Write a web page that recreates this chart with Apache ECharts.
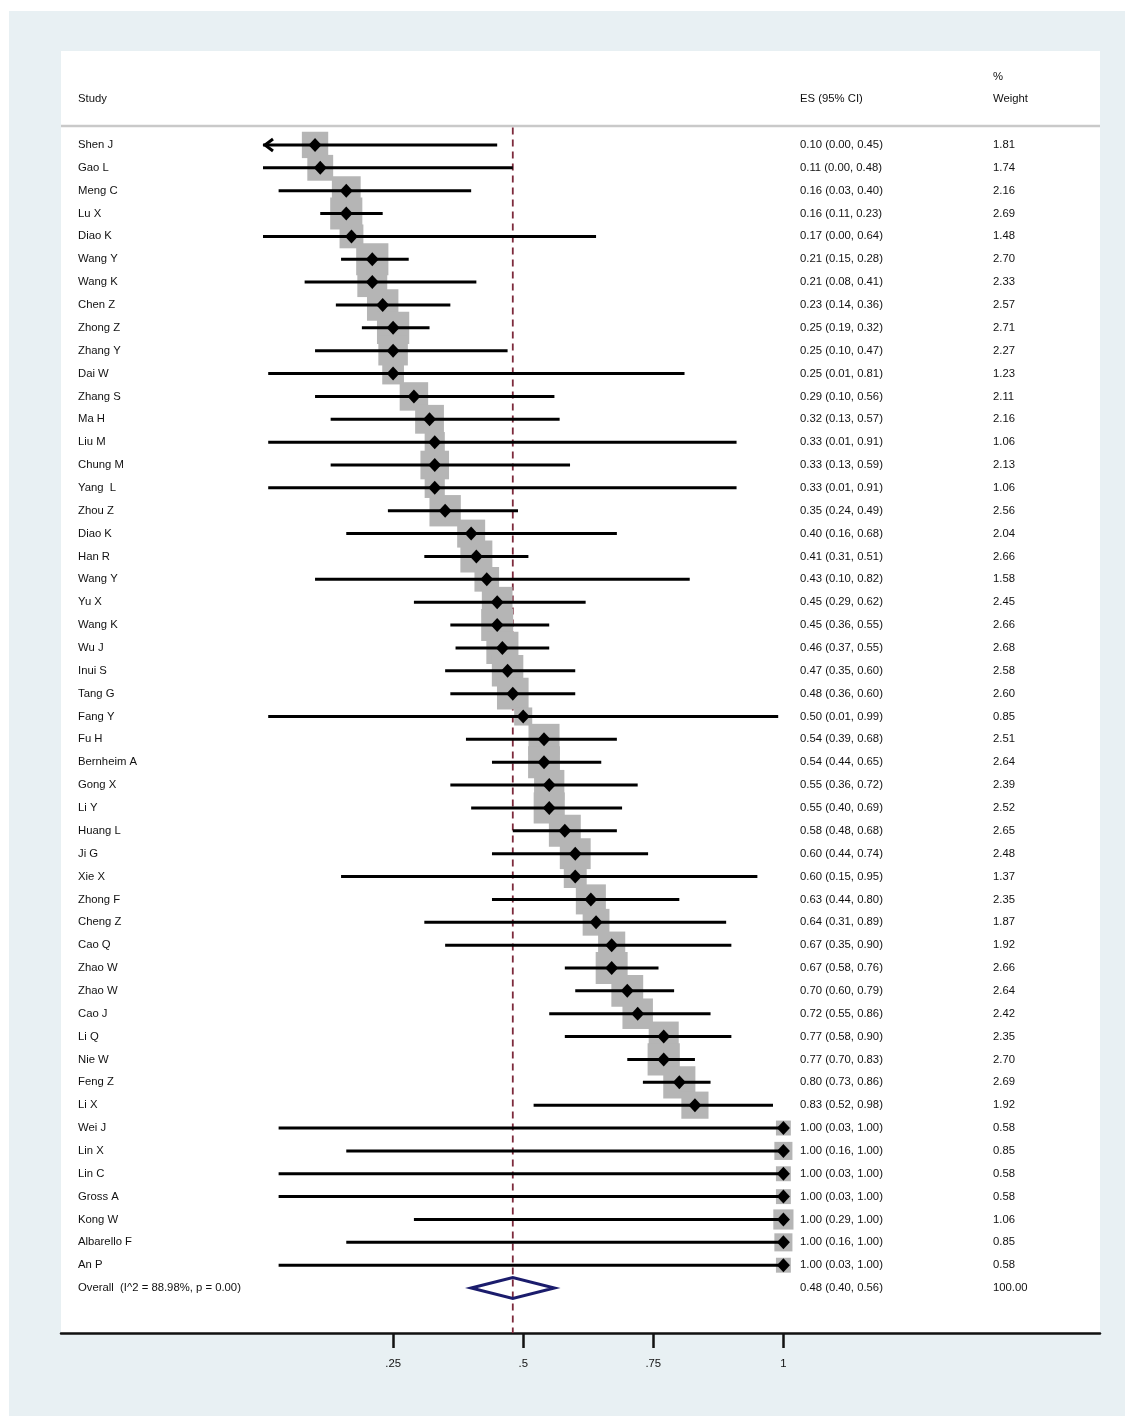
<!DOCTYPE html>
<html>
<head>
<meta charset="utf-8">
<script src="https://cdn.jsdelivr.net/npm/echarts@6/dist/echarts.min.js"></script>
<style>
html,body{margin:0;padding:0;background:#fff;}
#chart{width:1125px;height:1416px;}
</style>
</head>
<body>
<div id="chart"></div>
<script>
// ---- data ----
const studies = ['Shen J','Gao L','Meng C','Lu X','Diao K','Wang Y','Wang K','Chen Z','Zhong Z','Zhang Y','Dai W','Zhang S','Ma H','Liu M','Chung M','Yang  L','Zhou Z','Diao K','Han R','Wang Y','Yu X','Wang K','Wu J','Inui S','Tang G','Fang Y','Fu H','Bernheim A','Gong X','Li Y','Huang L','Ji G','Xie X','Zhong F','Cheng Z','Cao Q','Zhao W','Zhao W','Cao J','Li Q','Nie W','Feng Z','Li X','Wei J','Lin X','Lin C','Gross A','Kong W','Albarello F','An P'];
const es = [0.10,0.11,0.16,0.16,0.17,0.21,0.21,0.23,0.25,0.25,0.25,0.29,0.32,0.33,0.33,0.33,0.35,0.40,0.41,0.43,0.45,0.45,0.46,0.47,0.48,0.50,0.54,0.54,0.55,0.55,0.58,0.60,0.60,0.63,0.64,0.67,0.67,0.70,0.72,0.77,0.77,0.80,0.83,1.00,1.00,1.00,1.00,1.00,1.00,1.00];
const ciLow = [0.00,0.00,0.03,0.11,0.00,0.15,0.08,0.14,0.19,0.10,0.01,0.10,0.13,0.01,0.13,0.01,0.24,0.16,0.31,0.10,0.29,0.36,0.37,0.35,0.36,0.01,0.39,0.44,0.36,0.40,0.48,0.44,0.15,0.44,0.31,0.35,0.58,0.60,0.55,0.58,0.70,0.73,0.52,0.03,0.16,0.03,0.03,0.29,0.16,0.03];
const ciHigh = [0.45,0.48,0.40,0.23,0.64,0.28,0.41,0.36,0.32,0.47,0.81,0.56,0.57,0.91,0.59,0.91,0.49,0.68,0.51,0.82,0.62,0.55,0.55,0.60,0.60,0.99,0.68,0.65,0.72,0.69,0.68,0.74,0.95,0.80,0.89,0.90,0.76,0.79,0.86,0.90,0.83,0.86,0.98,1.00,1.00,1.00,1.00,1.00,1.00,1.00];
const weights = [1.81,1.74,2.16,2.69,1.48,2.70,2.33,2.57,2.71,2.27,1.23,2.11,2.16,1.06,2.13,1.06,2.56,2.04,2.66,1.58,2.45,2.66,2.68,2.58,2.60,0.85,2.51,2.64,2.39,2.52,2.65,2.48,1.37,2.35,1.87,1.92,2.66,2.64,2.42,2.35,2.70,2.69,1.92,0.58,0.85,0.58,0.58,1.06,0.85,0.58];
const arrowLeftRows = [0]; // CI truncated at the left edge (Shen J)
const overall = { es: 0.48, low: 0.40, high: 0.56, weight: 100.00, i2: 88.98, p: 0.00 };
const tickValues = [0.25, 0.5, 0.75, 1];
const tickLabels = ['.25', '.5', '.75', '1'];

// ---- derived labels ----
const fmt = v => v.toFixed(2);
const overallLabel = 'Overall  (I^2 = ' + fmt(overall.i2) + '%, p = ' + fmt(overall.p) + ')';
const rowLabels = studies.concat([overallLabel]);
const esLabels = es.map((v, i) => fmt(v) + ' (' + fmt(ciLow[i]) + ', ' + fmt(ciHigh[i]) + ')')
  .concat([fmt(overall.es) + ' (' + fmt(overall.low) + ', ' + fmt(overall.high) + ')']);
const wLabels = weights.map(fmt).concat([fmt(overall.weight)]);
const nRows = rowLabels.length;

// ---- layout ----
const FONT = 'Liberation Sans, Arial, Helvetica, sans-serif';
const FS = 11.3;
const TXT = '#111111';
const GRID = { left: 61, right: 25, top: 133.5, bottom: 116.5 };
const AXIS_OFFSET = 33.5;
const BOX_K = 19.6;

const chart = echarts.init(document.getElementById('chart'), null, { renderer: 'canvas' });

const catAxisBase = {
  type: 'category', inverse: true, position: 'left',
  axisLine: { show: false }, axisTick: { show: false }, splitLine: { show: false },
  boundaryGap: true
};
const labelStyle = { inside: true, align: 'left', interval: 0, color: TXT, fontSize: FS, fontFamily: FONT };

const option = {
  animation: false,
  backgroundColor: '#ffffff',
  graphic: [
    { type: 'rect', z: -10, shape: { x: 9, y: 11, width: 1116, height: 1405 }, style: { fill: '#e8f0f3' } },
    { type: 'rect', z: -9, shape: { x: 61, y: 51, width: 1039, height: 1282 }, style: { fill: '#ffffff' } },
    { type: 'line', z: -8, shape: { x1: 61, y1: 126, x2: 1100, y2: 126 }, style: { stroke: '#c9c9c9', lineWidth: 2.5 } },
    { type: 'text', x: 78, y: 99, style: { text: 'Study', fill: TXT, font: FS + 'px ' + FONT, textVerticalAlign: 'middle' } },
    { type: 'text', x: 800, y: 99, style: { text: 'ES (95% CI)', fill: TXT, font: FS + 'px ' + FONT, textVerticalAlign: 'middle' } },
    { type: 'text', x: 993, y: 77, style: { text: '%', fill: TXT, font: FS + 'px ' + FONT, textVerticalAlign: 'middle' } },
    { type: 'text', x: 993, y: 99, style: { text: 'Weight', fill: TXT, font: FS + 'px ' + FONT, textVerticalAlign: 'middle' } }
  ],
  grid: { left: GRID.left, right: GRID.right, top: GRID.top, bottom: GRID.bottom, containLabel: false },
  xAxis: {
    type: 'value',
    min: (GRID.left - 263) / 520.4,
    max: (1100 - 263) / 520.4,
    position: 'bottom',
    offset: AXIS_OFFSET,
    splitLine: { show: false },
    axisLine: { show: true, onZero: false, lineStyle: { color: '#111', width: 2.5 } },
    axisTick: { show: true, customValues: tickValues, length: 15, lineStyle: { color: '#111', width: 2.5 } },
    axisLabel: {
      customValues: tickValues,
      formatter: v => { const k = tickValues.findIndex(t => Math.abs(t - v) < 1e-9); return k >= 0 ? tickLabels[k] : ''; },
      margin: 25, color: TXT, fontSize: FS, fontFamily: FONT
    }
  },
  yAxis: [
    Object.assign({}, catAxisBase, { data: rowLabels, offset: 0, axisLabel: Object.assign({}, labelStyle, { margin: 17 }) }),
    Object.assign({}, catAxisBase, { data: esLabels, offset: -739, axisLabel: Object.assign({}, labelStyle, { margin: 0 }) }),
    Object.assign({}, catAxisBase, { data: wLabels, offset: -932, axisLabel: Object.assign({}, labelStyle, { margin: 0 }) })
  ],
  series: [
    // reference (overall effect) dashed line
    {
      type: 'custom', z: 1, silent: true, clip: false,
      data: [[overall.es]],
      renderItem: (params, api) => {
        const cs = params.coordSys;
        const x = api.coord([api.value(0), 0])[0];
        return { type: 'line', shape: { x1: x, y1: cs.y - 6, x2: x, y2: cs.y + cs.height + AXIS_OFFSET },
          style: { stroke: '#7d2a3c', lineWidth: 1.8, lineDash: [7, 5] } };
      }
    },
    // weight boxes
    {
      type: 'scatter', z: 2, silent: true,
      data: es.map((v, i) => [v, i, weights[i]]),
      symbol: 'rect',
      symbolSize: val => BOX_K * Math.sqrt(val[2]),
      itemStyle: { color: '#b5b5b5', opacity: 1 }
    },
    // confidence intervals
    {
      type: 'custom', z: 3, silent: true, clip: false,
      data: es.map((v, i) => [ciLow[i], ciHigh[i], i, arrowLeftRows.indexOf(i) >= 0 ? 1 : 0]),
      renderItem: (params, api) => {
        const row = api.value(2);
        const a = api.coord([api.value(0), row]);
        const b = api.coord([api.value(1), row]);
        const children = [{ type: 'line', shape: { x1: a[0], y1: a[1], x2: b[0], y2: b[1] }, style: { stroke: '#000', lineWidth: 3 } }];
        if (api.value(3)) {
          children.push({ type: 'polyline', shape: { points: [[a[0] + 10, a[1] - 6], [a[0] + 2, a[1]], [a[0] + 10, a[1] + 6]] },
            style: { stroke: '#000', lineWidth: 3, fill: null } });
        }
        return { type: 'group', children };
      }
    },
    // point estimates
    {
      type: 'scatter', z: 4, silent: true,
      data: es.map((v, i) => [v, i]),
      symbol: 'diamond', symbolSize: [13, 14],
      itemStyle: { color: '#000', opacity: 1 }
    },
    // overall diamond
    {
      type: 'custom', z: 5, silent: true, clip: false,
      data: [[overall.low, overall.high, overall.es, nRows - 1]],
      renderItem: (params, api) => {
        const row = api.value(3);
        const l = api.coord([api.value(0), row]);
        const h = api.coord([api.value(1), row]);
        const m = api.coord([api.value(2), row]);
        return { type: 'polygon', shape: { points: [[l[0], l[1]], [m[0], m[1] - 10.5], [h[0], h[1]], [m[0], m[1] + 10.5]] },
          style: { stroke: '#1b1c6c', lineWidth: 3, fill: 'rgba(0,0,0,0)' } };
      }
    }
  ]
};
chart.setOption(option);
</script>
</body>
</html>
